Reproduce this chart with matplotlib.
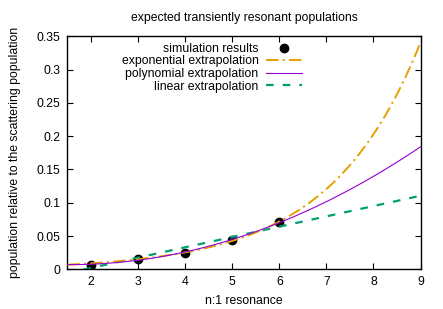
import numpy as np
import matplotlib
matplotlib.use("Agg")
import matplotlib.pyplot as plt

# simulation results (n:1 resonance, population fraction)
n_res = [2, 3, 4, 5, 6]
pop = [0.006, 0.016, 0.024, 0.0435, 0.0705]

# fitted extrapolation coefficients
exp_a, exp_b = 0.003166, 0.52             # a * exp(b n)
poly_c = [0.0148, -0.01, 0.0032]          # c0 + c1 n + c2 n^2
lin_m, lin_c = 0.0155, -0.029             # m n + c

xticks = [2, 3, 4, 5, 6, 7, 8, 9]
yticks = [0, 0.05, 0.1, 0.15, 0.2, 0.25, 0.3, 0.35]

plt.rcParams['font.family'] = ['Liberation Sans', 'DejaVu Sans']
plt.rcParams['font.size'] = 8.8
plt.rcParams['lines.scale_dashes'] = False

fig = plt.figure(figsize=(4.43, 3.09), dpi=100)
ax = fig.add_axes([0.152, 0.1285, 0.7974, 0.754])

xs = np.linspace(1.5, 9, 400)
ax.plot(n_res, pop, 'o', color='black', ms=6, zorder=1, label='simulation results')
ax.plot(xs, exp_a * np.exp(exp_b * xs), color='#e69f00', lw=1.4,
        ls=(0, (9, 3, 1.5, 3)), label='exponential extrapolation', zorder=3)
ax.plot(xs, poly_c[0] + poly_c[1] * xs + poly_c[2] * xs**2, color='#9400d3',
        lw=0.8, label='polynomial extrapolation', zorder=4)
ax.plot(xs, lin_m * xs + lin_c, color='#009e73', lw=1.6,
        ls=(0, (5.5, 6.5)), label='linear extrapolation', zorder=2)

ax.set_xlim(1.5, 9)
ax.set_ylim(0, 0.35)
ax.set_xticks(xticks)
ax.set_yticks(yticks)
ax.set_yticklabels(['0', '0.05', '0.1', '0.15', '0.2', '0.25', '0.3', '0.35'])
ax.tick_params(direction='in', length=4.3, width=0.8, top=True, right=True,
               pad=5, colors='black')
for s in ax.spines.values():
    s.set_linewidth(1.0)

ax.set_title('expected transiently resonant populations', fontsize=8.8, pad=11)
ax.set_xlabel('n:1 resonance', labelpad=5)
ax.set_ylabel('population relative to the scattering population', labelpad=11)

leg = ax.legend(loc='upper right', bbox_to_anchor=(0.664, 0.972), frameon=False,
                markerfirst=False, numpoints=1, handlelength=2.9,
                handletextpad=0.65, labelspacing=0.05, borderpad=0,
                borderaxespad=0)
# right-align the rows like a gnuplot key
for col in leg._legend_handle_box.get_children():
    col.align = 'right'

fig.savefig('out.png', dpi=100)
